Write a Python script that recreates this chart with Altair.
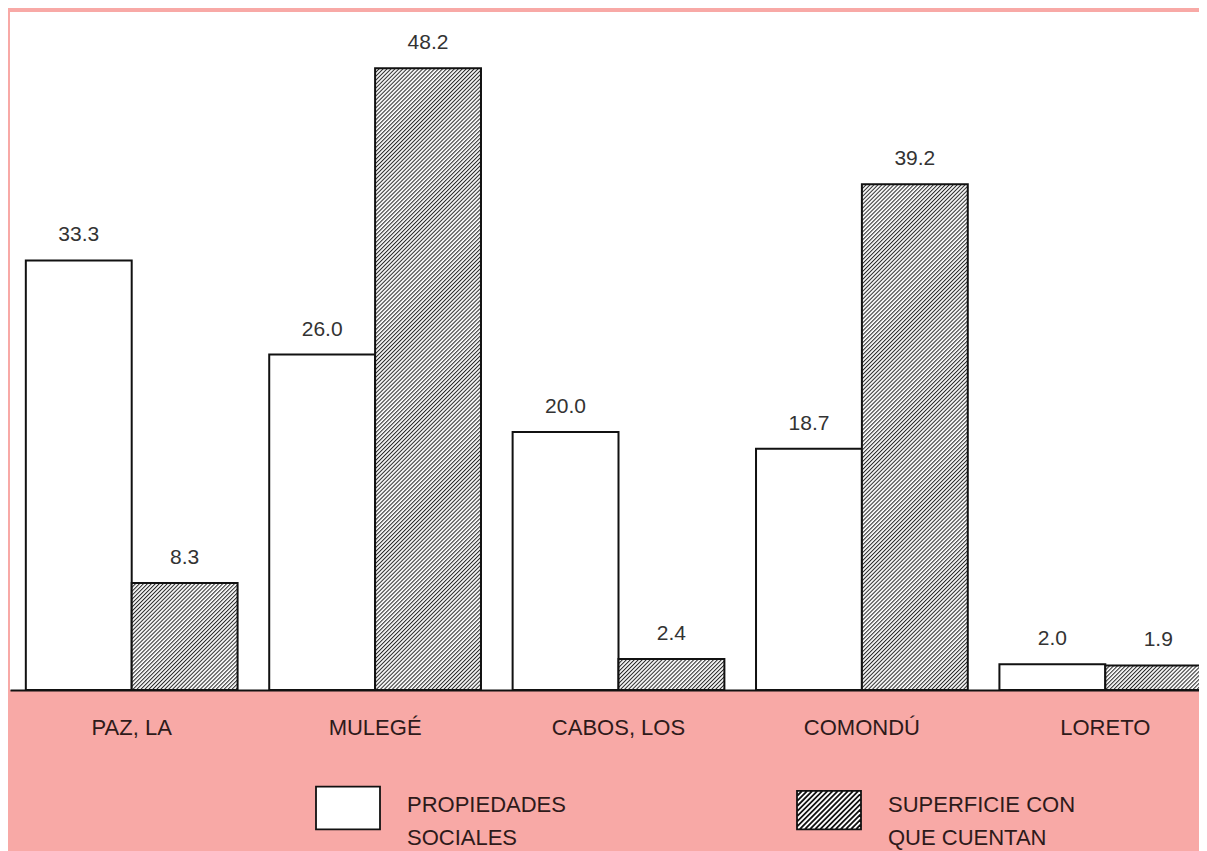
import base64
import altair as alt
import pandas as pd

# ---- data ----
municipios = ["PAZ, LA", "MULEGÉ", "CABOS, LOS", "COMONDÚ", "LORETO"]
propiedades = [33.3, 26.0, 20.0, 18.7, 2.0]
superficie = [8.3, 48.2, 2.4, 39.2, 1.9]
series = ["PROPIEDADES SOCIALES", "SUPERFICIE CON QUE CUENTAN"]

rows = []
for m, a, b in zip(municipios, propiedades, superficie):
    rows.append({"municipio": m, "serie": series[0], "valor": a})
    rows.append({"municipio": m, "serie": series[1], "valor": b})
df = pd.DataFrame(rows)

# ---- layout constants ----
PLOT_W = 1189
PLOT_H = 678
X_RANGE = 1217
P_IN = 0.13
P_OUT = 0.065
YMAX = 52.56
FONT = "Liberation Sans"
PINK = "#F8A9A6"
INK = "#111111"

step = X_RANGE / (len(municipios) - P_IN + 2 * P_OUT)
bar_w = step * (1 - P_IN) / 2
px_per_unit = PLOT_H / YMAX


def hatch_url(w, h, period=2.8, line=1.05, color="#2a2a2a"):
    svg = (
        "<svg xmlns='http://www.w3.org/2000/svg' width='{w:.2f}' height='{h:.2f}' "
        "viewBox='0 0 {w:.2f} {h:.2f}' preserveAspectRatio='none'>"
        "<defs><pattern id='p' width='{p}' height='{p}' patternUnits='userSpaceOnUse' "
        "patternTransform='rotate(45)'><rect x='0' y='0' width='{l}' height='{p}' fill='{c}'/>"
        "</pattern></defs>"
        "<rect width='100%' height='100%' fill='#ffffff'/>"
        "<rect width='100%' height='100%' fill='url(#p)'/></svg>"
    ).format(w=w, h=h, p=period, l=line, c=color)
    return "data:image/svg+xml;base64," + base64.b64encode(svg.encode()).decode()


def rect_symbol(hh=0.67, dy=-0.125):
    return "M-1,%.3fH1V%.3fH-1Z" % (-hh + dy, hh + dy)


def hatch_symbol(hh=0.6, dy=-0.06, s=0.16):
    parts = ["M-1,%.3fH1V%.3fH-1Z" % (-hh + dy, hh + dy)]
    c = -1 - hh + s
    while c < 1 + hh:
        xa = max(-1.0, c - hh)
        xb = min(1.0, c + hh)
        parts.append("M%.3f,%.3fL%.3f,%.3f" % (xa, c - xa + dy, xb, c - xb + dy))
        c += s
    return "".join(parts)


xenc = alt.X("municipio:N", sort=municipios,
             scale=alt.Scale(domain=municipios, range=[0, X_RANGE],
                             paddingInner=P_IN, paddingOuter=P_OUT),
             axis=alt.Axis(title=None, ticks=False, tickSize=0, labelPadding=44,
                           labelBaseline="alphabetic", labelFontSize=22, labelFont=FONT,
                           labelColor="#2e1a1a", labelAngle=0, grid=False,
                           domainColor=INK, domainWidth=2))
xoff = alt.XOffset("serie:N", sort=series,
                   scale=alt.Scale(domain=series, paddingInner=0, paddingOuter=0))
yenc = alt.Y("valor:Q", scale=alt.Scale(domain=[0, YMAX], nice=False, zero=True), axis=None)

base = alt.Chart(df).encode(x=xenc, xOffset=xoff, y=yenc)

white_bars = base.transform_filter(alt.datum.serie == series[0]).mark_bar(
    fill="white", stroke=INK, strokeWidth=2)

layers = [white_bars]
for m, v in zip(municipios, superficie):
    url = hatch_url(bar_w, v * px_per_unit)
    layers.append(
        base.transform_filter((alt.datum.serie == series[1]) & (alt.datum.municipio == m))
        .mark_image(url=url, aspect=False)
        .encode(y2=alt.datum(0))
    )

outline = base.transform_filter(alt.datum.serie == series[1]).mark_bar(
    fill="white", fillOpacity=0, stroke=INK, strokeWidth=2)
layers.append(outline)

labels = base.mark_text(dy=-19, baseline="alphabetic", fontSize=21, font=FONT,
                        color="#333333").encode(text=alt.Text("valor:Q", format=".1f"))
layers.append(labels)

leg = alt.Legend(title=None, orient="none", legendX=305, legendY=767, direction="horizontal",
                 columns=2, columnPadding=227, padding=0, labelFontSize=22, labelFont=FONT,
                 labelColor="#2e1a1a", labelOffset=26, labelLimit=0, symbolSize=4096,
                 symbolStrokeWidth=1.8, labelBaseline="alphabetic",
                 labelExpr="datum.label == 'PROPIEDADES SOCIALES' ? ['PROPIEDADES', 'SOCIALES'] : ['SUPERFICIE CON', 'QUE CUENTAN']")
legend_layer = base.transform_filter("false").mark_point(filled=True, opacity=1, strokeWidth=1.8).encode(
    fill=alt.Fill("serie:N", scale=alt.Scale(domain=series, range=["white", "white"]), legend=leg),
    stroke=alt.Stroke("serie:N", scale=alt.Scale(domain=series, range=[INK, INK]), legend=leg),
    shape=alt.Shape("serie:N", scale=alt.Scale(domain=series, range=[rect_symbol(), hatch_symbol()]), legend=leg),
)
layers.append(legend_layer)

chart = alt.layer(*layers).properties(
    width=PLOT_W, height=PLOT_H,
    padding={"left": 2, "top": 4, "right": 0, "bottom": 161},
    autosize=alt.AutoSizeParams(type="none"),
    background=PINK,
).configure(
    view=alt.ViewConfig(fill="white", strokeWidth=0),
    style={"guide-label": {"lineHeight": 33}},
)

chart.save("out.html", embed_options={"renderer": "svg", "actions": False})
